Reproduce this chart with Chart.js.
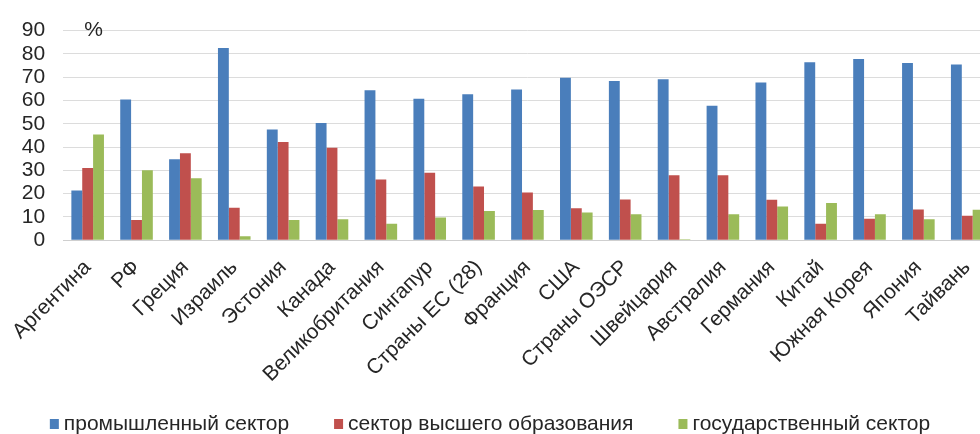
<!DOCTYPE html>
<html lang="ru">
<head>
<meta charset="utf-8">
<script src="https://cdn.jsdelivr.net/npm/chart.js@4"></script>
<style>
  html, body { margin: 0; padding: 0; background: #fff; overflow: hidden; }
  body { width: 980px; height: 434px; }
  /* the plot runs a little past the right edge of the page */
  #wrap { width: 1000px; height: 434px; position: relative; }
</style>
</head>
<body>
<div id="wrap"><canvas id="c"></canvas></div>
<script>
// Structure of R&D expenditure by performing sector, %
const categories = [
  'Аргентина', 'РФ', 'Греция', 'Израиль', 'Эстония', 'Канада',
  'Великобритания', 'Сингапур', 'Страны ЕС (28)', 'Франция', 'США',
  'Страны ОЭСР', 'Швейцария', 'Австралия', 'Германия', 'Китай',
  'Южная Корея', 'Япония', 'Тайвань'
];
const industry = [21.3, 60.4, 34.7, 82.5, 47.5, 50.3, 64.4, 60.7, 62.7, 64.7, 69.7, 68.3, 69.1, 57.7, 67.7, 76.4, 77.8, 76.1, 75.4];
const higherEducation = [31.0, 8.7, 37.3, 13.9, 42.1, 39.7, 26.0, 28.9, 23.0, 20.5, 13.7, 17.5, 27.9, 27.9, 17.4, 7.0, 9.2, 13.2, 10.5];
const government = [45.4, 30.0, 26.6, 1.7, 8.7, 9.0, 7.0, 9.7, 12.5, 12.9, 11.9, 11.1, 0.4, 11.1, 14.5, 15.9, 11.1, 9.0, 13.1];
const seriesNames = ['промышленный сектор', 'сектор высшего образования', 'государственный сектор'];
const seriesColors = ['#4a7ebb', '#c0504d', '#9bbb59'];
const yTicks = [0, 10, 20, 30, 40, 50, 60, 70, 80, 90];
const unitLabel = '%';

const FONT = '"Liberation Sans", Arial, sans-serif';
const FONT_SIZE = 21;
const TEXT = '#262626';

// Unit sign next to the top gridline
const unitPlugin = {
  id: 'unitLabel',
  afterDraw(chart) {
    const { ctx, chartArea, scales } = chart;
    const y = scales.y.getPixelForValue(yTicks[yTicks.length - 1]);
    ctx.save();
    ctx.font = FONT_SIZE + 'px ' + FONT;
    ctx.fillStyle = TEXT;
    ctx.textAlign = 'left';
    ctx.textBaseline = 'middle';
    ctx.fillText(unitLabel, chartArea.left + 21, y);
    ctx.restore();
  }
};

// Single-row legend along the bottom, centred on the visible page
const legendRowPlugin = {
  id: 'legendRow',
  afterDraw(chart) {
    const { ctx } = chart;
    const box = 9, boxH = 10, gap = 5, spacing = 45;
    ctx.save();
    ctx.font = FONT_SIZE + 'px ' + FONT;
    const widths = seriesNames.map(n => ctx.measureText(n).width);
    const total = widths.reduce((a, w) => a + box + gap + w, 0) + spacing * (seriesNames.length - 1);
    const visible = Math.min(chart.width, document.documentElement.clientWidth);
    let x = (visible - total) / 2;
    const y = chart.height - 10;
    ctx.textBaseline = 'middle';
    ctx.textAlign = 'left';
    seriesNames.forEach((name, i) => {
      ctx.fillStyle = seriesColors[i];
      ctx.fillRect(x, y - boxH / 2, box, boxH);
      ctx.fillStyle = TEXT;
      ctx.fillText(name, x + box + gap, y);
      x += box + gap + widths[i] + spacing;
    });
    ctx.restore();
  }
};

new Chart(document.getElementById('c'), {
  type: 'bar',
  data: {
    labels: categories,
    datasets: seriesNames.map((name, i) => ({
      label: name,
      data: [industry, higherEducation, government][i],
      backgroundColor: seriesColors[i]
    }))
  },
  options: {
    responsive: true,
    maintainAspectRatio: false,
    animation: false,
    events: [],
    layout: { padding: { left: 2, right: 0, top: 18, bottom: 32 } },
    datasets: { bar: { categoryPercentage: 0.667, barPercentage: 1.0 } },
    scales: {
      x: {
        grid: { display: false, drawTicks: false },
        border: { display: true, color: '#cfcfcf', width: 1 },
        ticks: {
          color: TEXT,
          font: { family: FONT, size: FONT_SIZE },
          minRotation: 45,
          maxRotation: 45,
          autoSkip: false,
          padding: 15
        }
      },
      y: {
        min: 0,
        max: 90,
        afterBuildTicks(axis) { axis.ticks = yTicks.map(v => ({ value: v })); },
        grid: { color: '#dcdcdc', lineWidth: 1, drawTicks: false },
        border: { display: false },
        ticks: {
          color: TEXT,
          font: { family: FONT, size: FONT_SIZE },
          autoSkip: false,
          padding: 18
        }
      }
    },
    plugins: {
      legend: { display: false },
      tooltip: { enabled: false }
    }
  },
  plugins: [unitPlugin, legendRowPlugin]
});
</script>
</body>
</html>
